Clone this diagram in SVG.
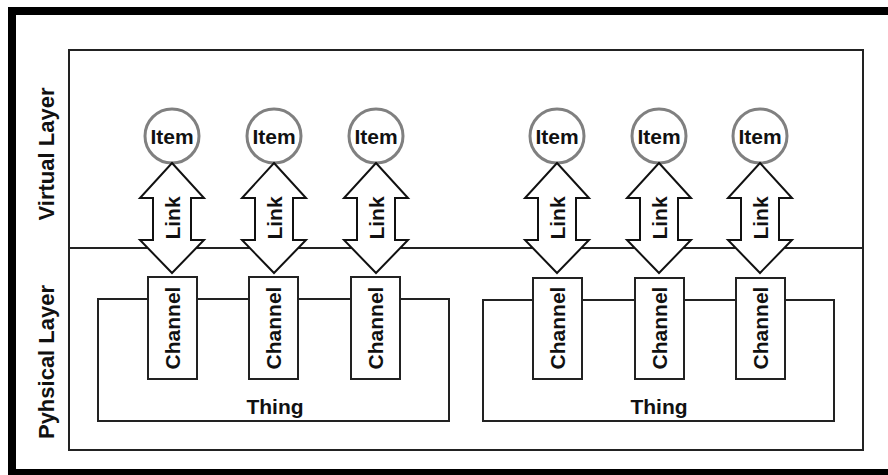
<svg xmlns="http://www.w3.org/2000/svg" width="888" height="475" viewBox="0 0 888 475">
  <style>
    .lbl { font-family: "Liberation Sans", Arial, sans-serif; font-weight: bold; fill: #111; text-anchor: middle; dominant-baseline: central; }
    .t20 { font-size: 21px; }
    .layer { font-size: 22px; }
    .box { fill: #fff; stroke: #222; stroke-width: 2; }
    .item { fill: #fff; stroke: #808080; stroke-width: 3; }
    .link { fill: #fff; stroke: #111; stroke-width: 2; stroke-linejoin: miter; }
  </style>
  <defs>
    <!-- double-headed block arrow, centred on x=0 -->
    <path id="linkArrow" class="link" d="M0,163 L32,198 L19,198 L19,240 L32,240 L0,273 L-32,240 L-19,240 L-19,198 L-32,198 Z"/>
  </defs>

  <rect x="0" y="0" width="888" height="475" fill="#fff"/>

  <!-- heavy outer frame -->
  <g id="frame" fill="#000">
    <rect x="8" y="7" width="880" height="8"/>
    <rect x="8" y="7" width="8" height="468"/>
    <rect x="8" y="469" width="880" height="6"/>
  </g>

  <!-- layer panel and divider -->
  <g id="layers">
    <rect class="box" x="69" y="50" width="794" height="400"/>
    <line x1="69" y1="248" x2="863" y2="248" stroke="#222" stroke-width="2"/>
    <text class="lbl layer" transform="translate(46,154) rotate(-90)">Virtual Layer</text>
    <text class="lbl layer" transform="translate(46,362) rotate(-90)">Pyhsical Layer</text>
  </g>

  <!-- things -->
  <g id="thing1">
    <rect class="box" x="98" y="299" width="351" height="122"/>
    <text class="lbl t20" x="275" y="406">Thing</text>
  </g>
  <g id="thing2">
    <rect class="box" x="483" y="300" width="351" height="121"/>
    <text class="lbl t20" x="659" y="406">Thing</text>
  </g>

  <!-- channels -->
  <g id="channel1"><rect class="box" x="148" y="277" width="49" height="102"/><text class="lbl t20" transform="translate(172.5,328) rotate(-90)">Channel</text></g>
  <g id="channel2"><rect class="box" x="249" y="277" width="49" height="102"/><text class="lbl t20" transform="translate(273.5,328) rotate(-90)">Channel</text></g>
  <g id="channel3"><rect class="box" x="351" y="277" width="49" height="102"/><text class="lbl t20" transform="translate(375.5,328) rotate(-90)">Channel</text></g>
  <g id="channel4"><rect class="box" x="533" y="278" width="49" height="101"/><text class="lbl t20" transform="translate(557.5,328) rotate(-90)">Channel</text></g>
  <g id="channel5"><rect class="box" x="635" y="278" width="49" height="101"/><text class="lbl t20" transform="translate(659.5,328) rotate(-90)">Channel</text></g>
  <g id="channel6"><rect class="box" x="736" y="278" width="49" height="101"/><text class="lbl t20" transform="translate(760.5,328) rotate(-90)">Channel</text></g>

  <!-- items -->
  <g id="item1"><circle class="item" cx="172" cy="136" r="27"/><text class="lbl t20" x="172" y="136">Item</text></g>
  <g id="item2"><circle class="item" cx="274" cy="136" r="27"/><text class="lbl t20" x="274" y="136">Item</text></g>
  <g id="item3"><circle class="item" cx="376" cy="136" r="27"/><text class="lbl t20" x="376" y="136">Item</text></g>
  <g id="item4"><circle class="item" cx="557" cy="136" r="27"/><text class="lbl t20" x="557" y="136">Item</text></g>
  <g id="item5"><circle class="item" cx="659" cy="136" r="27"/><text class="lbl t20" x="659" y="136">Item</text></g>
  <g id="item6"><circle class="item" cx="760" cy="136" r="27"/><text class="lbl t20" x="760" y="136">Item</text></g>

  <!-- links between items and channels -->
  <g id="connectors">
    <g transform="translate(172,0)"><use href="#linkArrow"/><text class="lbl t20" transform="translate(0,218) rotate(-90)">Link</text></g>
    <g transform="translate(274,0)"><use href="#linkArrow"/><text class="lbl t20" transform="translate(0,218) rotate(-90)">Link</text></g>
    <g transform="translate(376,0)"><use href="#linkArrow"/><text class="lbl t20" transform="translate(0,218) rotate(-90)">Link</text></g>
    <g transform="translate(557,0)"><use href="#linkArrow"/><text class="lbl t20" transform="translate(0,218) rotate(-90)">Link</text></g>
    <g transform="translate(659,0)"><use href="#linkArrow"/><text class="lbl t20" transform="translate(0,218) rotate(-90)">Link</text></g>
    <g transform="translate(760,0)"><use href="#linkArrow"/><text class="lbl t20" transform="translate(0,218) rotate(-90)">Link</text></g>
  </g>
</svg>
